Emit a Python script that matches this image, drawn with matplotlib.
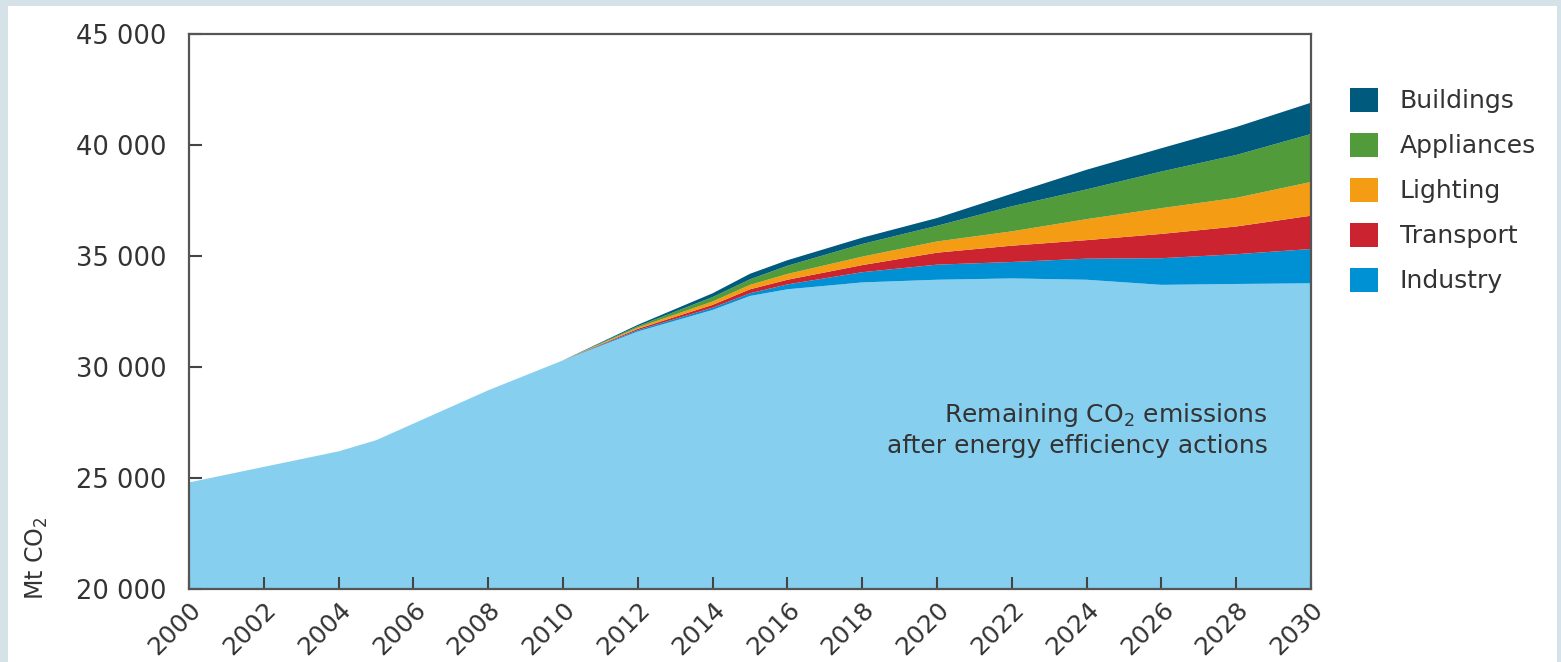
import matplotlib
matplotlib.use("Agg")
import matplotlib.pyplot as plt
from matplotlib.patches import Patch, Rectangle

plt.rcParams['font.family'] = ['DejaVu Sans']
plt.rcParams['mathtext.fontset'] = 'dejavusans'

# values (Mt CO2)
years = [2000, 2002, 2004, 2005, 2008, 2010, 2012, 2014, 2015, 2016,
         2018, 2020, 2022, 2024, 2026, 2028, 2030]
remaining = [24800, 25500, 26200, 26700, 28950, 30300, 31600, 32570, 33200, 33500,
             33810, 33930, 33990, 33930, 33700, 33740, 33770]
industry = [0, 0, 0, 0, 0, 0, 60, 100, 120, 220, 460, 680, 740, 950, 1200, 1340, 1545]
transport = [0, 0, 0, 0, 0, 0, 60, 130, 180, 210, 320, 540, 735, 835, 1095, 1250, 1500]
lighting = [0, 0, 0, 0, 0, 0, 60, 150, 200, 260, 380, 505, 645, 945, 1160, 1290, 1520]
appliances = [0, 0, 0, 0, 0, 0, 60, 200, 250, 370, 570, 705, 1130, 1340, 1650, 1930, 2160]
buildings = [0, 0, 0, 0, 0, 0, 60, 170, 250, 250, 285, 350, 565, 885, 1050, 1260, 1410]

layer_names = ['Remaining', 'Industry', 'Transport', 'Lighting', 'Appliances', 'Buildings']
layer_colors = ['#87cfef', '#0091d5', '#cc2331', '#f39c14', '#519b3a', '#005a7e']
xticks = list(range(2000, 2031, 2))
yticks = [20000, 25000, 30000, 35000, 40000, 45000]

W, H = 1561, 662
fig = plt.figure(figsize=(W / 100, H / 100), dpi=100, facecolor='#d5e3e9')
fig.patches.append(Rectangle((8 / W, 0), (1557 - 8) / W, (H - 6) / H,
                             transform=fig.transFigure, facecolor='white',
                             edgecolor='none', zorder=-10))

ax = fig.add_axes([189 / W, 73 / H, (1311 - 189) / W, (589 - 34) / H])
ax.set_zorder(2)
ax.set_facecolor('white')
ax.stackplot(years, remaining, industry, transport, lighting, appliances, buildings,
             colors=layer_colors, linewidth=0)

ax.set_xlim(2000, 2030)
ax.set_ylim(20000, 45000)
ax.set_xticks(xticks)
ax.set_xticklabels([str(y) for y in xticks], rotation=45, ha='right',
                   rotation_mode='anchor', fontsize=18, color='#333333')
ax.set_yticks(yticks)
ax.set_yticklabels([f'{v // 1000} 000' for v in yticks], fontsize=18.5, color='#333333')
ax.tick_params(axis='both', direction='in', length=9, width=1.5, color='#444444')
ax.tick_params(axis='x', pad=6)
ax.tick_params(axis='y', pad=16)
for s in ax.spines.values():
    s.set_color('#555555')
    s.set_linewidth(1.6)

ax.text(2028.85, 27200, 'Remaining CO$_2$ emissions\nafter energy efficiency actions',
        ha='right', va='center', fontsize=18, color='#333333', linespacing=1.25)

fig.text(37 / W, (H - 558) / H, 'Mt CO$_2$', rotation=90, ha='center', va='center',
         fontsize=17, color='#333333')

handles = [Patch(facecolor=c, edgecolor='none', label=n)
           for n, c in zip(layer_names[::-1][:-1], layer_colors[::-1][:-1])]
fig.legend(handles=handles, loc='upper left', bbox_to_anchor=(1342 / W, (H - 80) / H),
           frameon=False, fontsize=18, handlelength=1.15, handleheight=1.1,
           handletextpad=0.85, labelspacing=0.78, labelcolor='#333333',
           borderaxespad=0, borderpad=0.3)

fig.savefig('out.png', dpi=100, facecolor=fig.get_facecolor())
